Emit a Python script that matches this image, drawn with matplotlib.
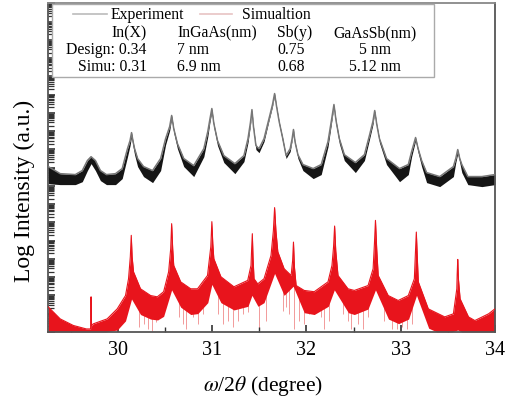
import numpy as np
import matplotlib
matplotlib.use("Agg")
import matplotlib.pyplot as plt
from matplotlib.ticker import LogLocator, NullFormatter, MultipleLocator

plt.rcParams['font.family'] = ['Liberation Serif', 'DejaVu Serif']
plt.rcParams['mathtext.fontset'] = 'stix'

# Experiment curve: omega/2theta (deg), upper edge and lower noise edge (log10 intensity)
exp_x = [29.263, 29.390, 29.550, 29.624, 29.678, 29.717, 29.763, 29.816, 29.880, 29.976,
         30.047, 30.103, 30.130, 30.146, 30.162, 30.178, 30.210, 30.273, 30.369, 30.454,
         30.507, 30.550, 30.571, 30.593, 30.632, 30.699, 30.805, 30.912, 30.954, 30.976,
         30.997, 31.018, 31.057, 31.124, 31.241, 31.337, 31.380, 31.406, 31.422, 31.438,
         31.464, 31.497, 31.550, 31.603, 31.640, 31.662, 31.683, 31.710, 31.749, 31.784,
         31.827, 31.848, 31.862, 31.878, 31.909, 31.962, 32.071, 32.156, 32.228, 32.271,
         32.291, 32.313, 32.348, 32.401, 32.518, 32.614, 32.667, 32.704, 32.723, 32.745,
         32.773, 32.848, 32.986, 33.079, 33.114, 33.135, 33.156, 33.183, 33.220, 33.273,
         33.412, 33.557, 33.582, 33.603, 33.624, 33.646, 33.710, 33.859, 33.997]
exp_hi = [9.06, 8.67, 8.62, 8.84, 9.39, 9.60, 9.39, 8.84, 8.62, 8.67,
          8.95, 10.04, 10.48, 10.92, 10.43, 10.04, 9.50, 9.06, 8.84, 9.50,
          10.59, 11.25, 11.86, 11.14, 10.32, 9.50, 9.11, 10.04, 10.98, 11.64,
          12.24, 11.42, 10.48, 9.66, 9.22, 9.66, 10.59, 11.47, 12.18, 11.25,
          10.21, 10.04, 10.59, 11.69, 12.46, 13.06, 12.35, 11.53, 10.59, 9.66,
          10.04, 10.59, 11.09, 10.43, 9.71, 9.17, 8.95, 9.17, 10.43, 11.80,
          12.46, 11.58, 10.59, 9.71, 9.28, 9.71, 10.76, 11.53, 12.13, 11.36,
          10.59, 9.50, 8.95, 9.17, 9.88, 10.26, 10.65, 10.04, 9.39, 8.73,
          8.51, 9.06, 9.50, 9.99, 9.50, 9.17, 8.51, 8.51, 8.62]
exp_lo = [8.12, 8.07, 8.07, 8.23, 8.84, 9.22, 8.84, 8.29, 8.07, 8.07,
          8.40, 9.60, 10.21, 10.70, 10.15, 9.71, 9.06, 8.51, 8.18, 8.84,
          10.26, 11.03, 11.69, 10.92, 10.04, 9.06, 8.51, 9.60, 10.70, 11.47,
          12.07, 11.20, 10.21, 9.28, 8.67, 9.33, 10.37, 11.31, 12.07, 11.09,
          9.99, 9.82, 10.43, 11.58, 12.35, 12.95, 12.24, 11.36, 10.37, 9.50,
          9.88, 10.48, 10.98, 10.26, 9.50, 8.84, 8.40, 8.62, 10.15, 11.64,
          12.35, 11.36, 10.32, 9.39, 8.73, 9.39, 10.54, 11.36, 12.02, 11.20,
          10.37, 9.17, 8.23, 8.62, 9.60, 10.04, 10.48, 9.82, 9.06, 8.18,
          7.96, 8.51, 9.28, 9.77, 9.28, 8.73, 8.07, 7.96, 8.07]

# Simulation curve: upper envelope
sim_x = [29.263, 29.390, 29.529, 29.667, 29.712, 29.717, 29.722, 29.741, 29.887, 29.994,
         30.082, 30.114, 30.133, 30.143, 30.152, 30.167, 30.241, 30.348, 30.419, 30.486,
         30.539, 30.561, 30.571, 30.582, 30.593, 30.667, 30.773, 30.845, 30.951, 30.986,
         30.997, 31.007, 31.018, 31.093, 31.231, 31.377, 31.412, 31.418, 31.426, 31.433,
         31.444, 31.483, 31.550, 31.624, 31.649, 31.662, 31.676, 31.696, 31.763, 31.837,
         31.853, 31.862, 31.872, 31.890, 31.976, 32.082, 32.228, 32.270, 32.287, 32.298,
         32.310, 32.334, 32.440, 32.507, 32.653, 32.706, 32.720, 32.731, 32.744, 32.760,
         32.866, 32.972, 33.079, 33.143, 33.154, 33.164, 33.174, 33.185, 33.291, 33.465,
         33.557, 33.593, 33.597, 33.603, 33.610, 33.628, 33.717, 33.784, 33.930, 33.997]
sim_hi = [1.37, 0.71, 0.35, 0.16, 0.16, 1.92, 0.33, 0.44, 0.71, 1.26,
          1.99, 2.91, 4.12, 5.29, 4.12, 3.29, 2.36, 1.99, 1.92, 2.20,
          3.29, 4.56, 5.93, 4.56, 3.64, 2.74, 2.36, 2.36, 3.09, 4.67,
          6.04, 4.83, 4.01, 3.02, 2.47, 2.82, 3.64, 4.45, 5.38, 4.12,
          2.91, 2.63, 2.91, 4.19, 5.54, 6.81, 5.54, 4.39, 3.46, 3.09,
          3.90, 4.92, 3.57, 2.54, 2.27, 2.20, 2.74, 3.64, 4.67, 5.80,
          4.45, 3.09, 2.36, 2.27, 2.54, 3.46, 4.83, 6.11, 4.56, 3.09,
          1.99, 1.72, 1.99, 2.91, 4.28, 5.47, 4.12, 2.74, 1.26, 0.82,
          0.99, 2.36, 3.18, 3.97, 2.91, 1.81, 0.82, 0.62, 0.99, 1.26]

# Simulation curve: lower edge of the dense fringe band
sim_lo_x = [29.263, 29.741, 29.873, 29.994, 30.082, 30.146, 30.241, 30.348, 30.422, 30.486,
            30.571, 30.667, 30.773, 30.848, 30.954, 30.997, 31.093, 31.231, 31.380, 31.422,
            31.486, 31.550, 31.662, 31.763, 31.859, 31.976, 32.082, 32.231, 32.295, 32.444,
            32.507, 32.652, 32.731, 32.869, 32.976, 33.082, 33.166, 33.295, 33.380, 33.540,
            33.603, 33.646, 33.997]
sim_lo = [0.0, 0.0, 0.0, 0.10, 0.60, 1.80, 0.95, 0.70, 0.65, 0.85,
          2.30, 1.35, 0.95, 1.00, 1.60, 2.60, 1.60, 1.20, 1.40, 2.00,
          1.40, 1.60, 3.20, 2.00, 2.50, 1.05, 0.95, 1.40, 2.30, 1.05,
          0.95, 1.25, 2.30, 0.70, 0.45, 0.70, 2.00, 0.20, 0.0, 0.0,
          0.10, 0.0, 0.0]

# Deep fringe minima of the simulation (position, depth)
dip_x = [30.220, 30.273, 30.316, 30.359, 30.401, 30.454, 30.646, 30.688, 30.720, 30.795,
         30.848, 30.901, 31.061, 31.114, 31.167, 31.220, 31.273, 31.327, 31.380, 31.497,
         31.571, 31.752, 31.784, 31.816, 31.869, 31.922, 31.976, 32.029, 32.156, 32.188,
         32.241, 32.390, 32.444, 32.475, 32.550, 32.603, 32.656, 32.826, 32.901, 32.954,
         33.007, 33.061, 33.114]
dip_y = [0.27, 0.44, 0.16, 0.05, 0.55, 0.99, 0.82, 0.44, 0.16, 0.82,
         0.44, 0.99, 0.99, 0.44, 0.60, 0.27, 0.60, 0.99, 1.10, 0.16,
         0.60, 1.15, 1.37, 0.99, 0.16, 0.60, 0.44, 0.99, 0.82, 0.16,
         0.60, 0.99, 0.60, 0.16, 0.44, 0.16, 0.82, 0.60, 0.16, 0.16,
         0.27, 0.16, 0.44]

col_heads = ['In(X)', 'InGaAs(nm)', 'Sb(y)', 'GaAsSb(nm)']
row_design = ['Design: 0.34', '7 nm', '0.75', '5 nm']
row_simu = ['Simu: 0.31', '6.9 nm', '0.68', '5.12 nm']

fig = plt.figure(figsize=(5.1, 4.02), dpi=100)
ax = fig.add_axes([0.094, 0.172, 0.877, 0.817])

red = '#e8141c'
# simulated curve: fringe band between the two envelopes
grid = np.union1d(sim_x, sim_lo_x)
band_hi = np.interp(grid, sim_x, sim_hi)
band_lo = np.minimum(np.interp(grid, sim_lo_x, sim_lo), band_hi)
dip_top = np.interp(dip_x, grid, band_lo) + 0.3
ax.vlines(dip_x, 10 ** np.array(dip_y), 10 ** dip_top, color='#f29a9a', lw=0.7, zorder=1)
ax.fill_between(grid, 10 ** band_lo, 10 ** band_hi, color=red, lw=0, zorder=2)
ax.plot(sim_x, 10 ** np.array(sim_hi), color=red, lw=0.8, zorder=3)

# experiment: noisy band with the measured line on top
ax.fill_between(exp_x, 10 ** np.array(exp_lo), 10 ** np.array(exp_hi),
                color='#151515', lw=0, zorder=2)
ax.plot(exp_x, 10 ** np.array(exp_hi), color='#777777', lw=1.1, zorder=3)

ax.set_yscale('log')
ax.set_ylim(1, 1e18)
ax.set_xlim(29.26, 34.0)
ax.yaxis.set_major_locator(LogLocator(base=10, numticks=40))
ax.yaxis.set_minor_locator(LogLocator(base=10, subs=np.arange(2, 10), numticks=40))
ax.yaxis.set_major_formatter(NullFormatter())
ax.yaxis.set_minor_formatter(NullFormatter())
ax.xaxis.set_major_locator(MultipleLocator(1))
ax.xaxis.set_minor_locator(MultipleLocator(0.5))
ax.tick_params(which='both', direction='in', top=False, right=False, color='#333333')
ax.tick_params(which='major', length=5, width=1.2, labelsize=14.5, pad=6)
ax.tick_params(which='minor', length=3.5, width=1.0)
ax.tick_params(axis='y', which='minor', length=4, width=0.9)
for s in ax.spines.values():
    s.set_color('#555555')
    s.set_linewidth(1.3)
ax.spines['top'].set_color('#888888')

ax.set_xlabel(r'$\omega$/2$\theta$ (degree)', fontsize=15.5)
ax.set_ylabel('Log Intensity (a.u.)', fontsize=17)
ax.xaxis.set_label_coords(0.48, -0.125)
ax.yaxis.set_label_coords(-0.029, 0.432)

# legend / parameter box
ax.add_patch(plt.Rectangle((0.009, 0.776), 0.855, 0.222, transform=ax.transAxes,
                           fill=True, facecolor='white', edgecolor='#aaaaaa', lw=1.0, zorder=4))
ax.plot([0.056, 0.132], [0.968, 0.968], transform=ax.transAxes, color='#bbbbbb', lw=1.2, zorder=5)
ax.text(0.139, 0.968, 'Experiment', transform=ax.transAxes, fontsize=11.3, va='center', zorder=5)
ax.plot([0.340, 0.412], [0.968, 0.968], transform=ax.transAxes, color='#e8c4c4', lw=1.2, zorder=5)
ax.text(0.434, 0.968, 'Simualtion', transform=ax.transAxes, fontsize=11.3, va='center', zorder=5)

col_x = [0.221, 0.289, 0.512, 0.732]
col_ha = ['right', 'left', 'left', 'center']
for row, yy in zip([col_heads, row_design, row_simu], [0.913, 0.861, 0.810]):
    for txt, xx, ha in zip(row, col_x, col_ha):
        ax.text(xx, yy, txt, transform=ax.transAxes, fontsize=11.3, ha=ha, va='center', zorder=5)

fig.savefig('out.png', dpi=100)
